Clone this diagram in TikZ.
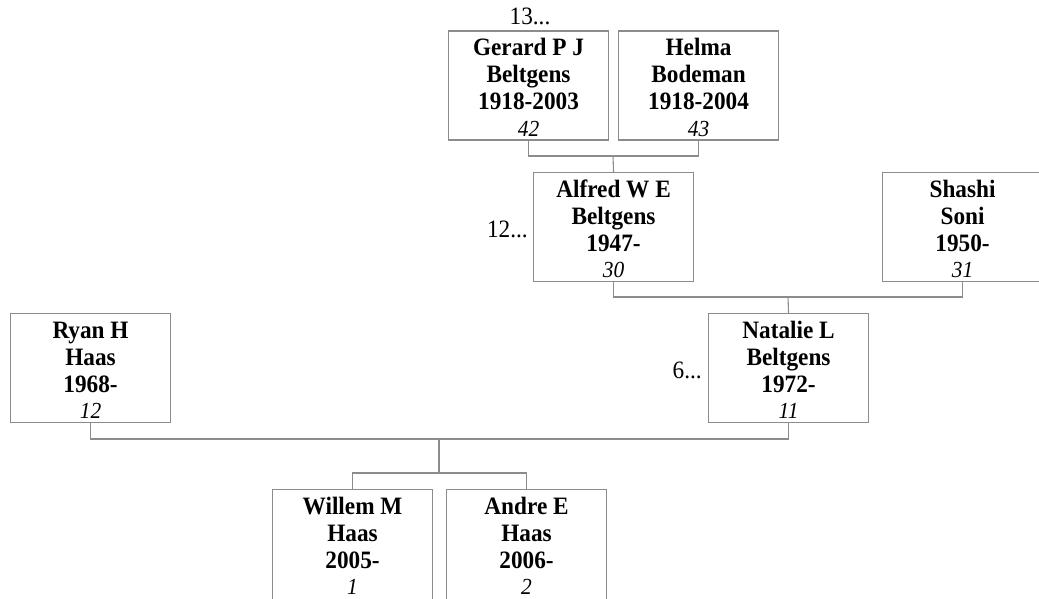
\documentclass[tikz,border=0pt]{standalone}
\usepackage{fontspec}
\setmainfont{Liberation Serif}[FakeStretch=0.93]
\usetikzlibrary{calc}
\definecolor{linegray}{RGB}{140,140,140}
\tikzset{
  x=1pt, y=-1pt,
  person/.style={draw=linegray, line width=1.1pt, rectangle, anchor=north west,
    minimum width=160pt, inner sep=0pt, align=center,
    text height=105pt, text depth=4pt,
    font=\fontsize{25}{27}\selectfont},
  link/.style={draw=linegray, line width=1.1pt},
  more/.style={font=\fontsize{25}{26}\selectfont, inner sep=0pt}
}
\newcommand{\pbox}[4]{\textbf{#1}\\\textbf{#2}\\\textbf{#3}\\[-0.5pt]{\fontsize{23}{24}\selectfont\itshape #4}}
\begin{document}
\begin{tikzpicture}
\useasboundingbox (0,0) rectangle (1039,599);
\clip (0,0) rectangle (1039,599);
\node[person] (gerard) at (448,30.5) {\pbox{Gerard P J}{Beltgens}{1918-2003}{42}};
\node[person] (helma) at (618,30.5) {\pbox{Helma}{Bodeman}{1918-2004}{43}};
\node[person] (alfred) at (533,172) {\pbox{Alfred W E}{Beltgens}{1947-}{30}};
\node[person] (shashi) at (882,172) {\pbox{Shashi}{Soni}{1950-}{31}};
\node[person] (ryan) at (10,313) {\pbox{Ryan H}{Haas}{1968-}{12}};
\node[person] (natalie) at (708,313) {\pbox{Natalie L}{Beltgens}{1972-}{11}};
\node[person, text depth=12pt] (willem) at (272,489) {\pbox{Willem M}{Haas}{2005-}{1}};
\node[person, text depth=12pt] (andre) at (446,489) {\pbox{Andre E}{Haas}{2006-}{2}};
\node[more, anchor=base] (m13) at (530,25) {13...};
\node[more, anchor=base east] (m12) at (528,237) {12...};
\node[more, anchor=base east] (m6) at (702,378) {6...};
\coordinate (j1) at (613,156);
\coordinate (j2) at (788,297);
\coordinate (j3) at (439,439);
\coordinate (j4) at (439,473);
\draw[link] (gerard.south) |- (j1) -| (helma.south);
\draw[link] (j1) -- (alfred.north);
\draw[link] (alfred.south) |- (j2) -| (shashi.south);
\draw[link] (j2) -- (natalie.north);
\draw[link] (ryan.south) |- (j3) -| (natalie.south);
\draw[link] (j3) -- (j4);
\draw[link] (willem.north) |- (j4) -| (andre.north);
\end{tikzpicture}
\end{document}
